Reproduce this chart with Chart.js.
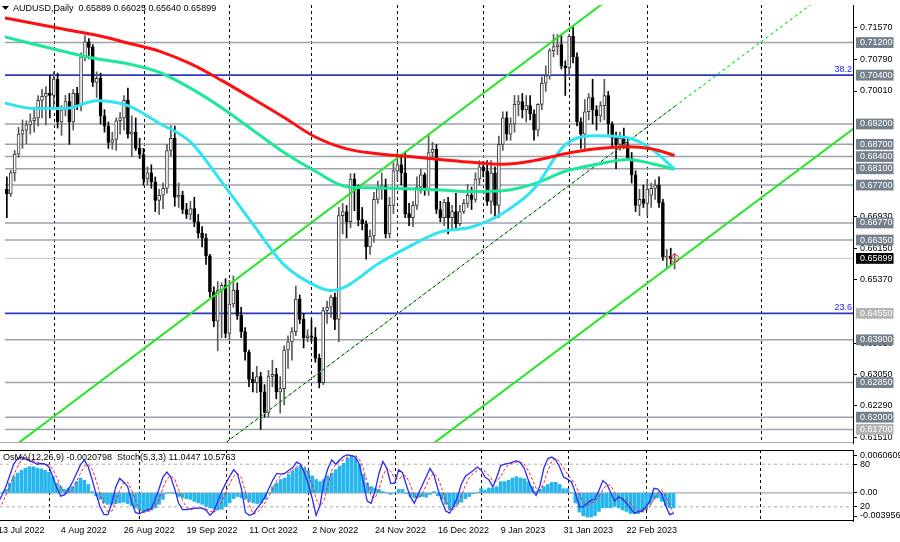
<!DOCTYPE html>
<html>
<head>
<meta charset="utf-8">
<script src="https://cdn.jsdelivr.net/npm/chart.js"></script>
<style>
  body { margin: 0; background: #fff; }
  #wrap { position: relative; width: 900px; height: 542px; overflow: hidden; background: #fff; }
  canvas { position: absolute; left: 0; }
  #main { top: 0; }
  #osc { top: 448px; }
</style>
</head>
<body>
<div id="wrap">
  <canvas id="main" width="900" height="448"></canvas>
  <canvas id="osc" width="900" height="94"></canvas>
</div>
<script>
// ---- data (AUDUSD daily, 13 Jul 2022 .. 10 Mar 2023) ----
const symbol = 'AUDUSD,Daily';
const firstDate = '2022-07-13';

const open = [0.6725,0.6760,0.6748,0.6800,0.6846,0.6895,0.6905,0.6918,0.6928,0.6935,
  0.6978,0.6988,0.6995,0.6990,0.7030,0.6925,0.6955,0.6975,0.6925,0.6995,
  0.6965,0.7085,0.7122,0.7108,0.7022,0.7032,0.6940,0.6915,0.6875,0.6882,
  0.6928,0.6935,0.6978,0.6895,0.6900,0.6860,0.6845,0.6785,0.6800,0.6778,
  0.6732,0.6745,0.6762,0.6855,0.6885,0.6740,0.6745,0.6710,0.6698,0.6712,
  0.6680,0.6652,0.6640,0.6596,0.6508,0.6436,0.6512,0.6524,0.6406,0.6478,
  0.6512,0.6450,0.6410,0.6360,0.6293,0.6285,0.6300,0.6262,0.6212,0.6300,
  0.6305,0.6262,0.6270,0.6365,0.6385,0.6410,0.6490,0.6440,0.6395,0.6400,
  0.6396,0.6345,0.6285,0.6462,0.6470,0.6495,0.6440,0.6695,0.6705,0.6680,
  0.6785,0.6760,0.6685,0.6675,0.6618,0.6645,0.6735,0.6760,0.6768,0.6650,
  0.6720,0.6805,0.6820,0.6800,0.6700,0.6690,0.6720,0.6765,0.6795,0.6760,
  0.6850,0.6858,0.6710,0.6690,0.6728,0.6690,0.6705,0.6675,0.6705,0.6725,
  0.6745,0.6735,0.6785,0.6815,0.6805,0.6730,0.6800,0.6720,0.6870,0.6935,
  0.6895,0.6920,0.6968,0.6975,0.6955,0.6965,0.6945,0.6905,0.6968,0.7020,
  0.7038,0.7100,0.7110,0.7115,0.7062,0.7058,0.7135,0.7085,0.6925,0.6895,
  0.6950,0.6985,0.6955,0.6940,0.6965,0.6990,0.6920,0.6885,0.6870,0.6885,
  0.6868,0.6835,0.6795,0.6720,0.6735,0.6725,0.6745,0.6762,0.6770,0.6727,
  0.6593,0.6595,0.65889];
const high = [0.6772,0.6790,0.6806,0.6855,0.6912,0.6930,0.6928,0.6945,0.6958,0.6990,
  0.7005,0.7012,0.7040,0.7048,0.7045,0.6965,0.6990,0.6995,0.7005,0.7010,
  0.7095,0.7137,0.7130,0.7115,0.7048,0.7045,0.6955,0.6925,0.6900,0.6935,
  0.6948,0.6990,0.7008,0.6940,0.6935,0.6885,0.6860,0.6815,0.6820,0.6790,
  0.6760,0.6775,0.6870,0.6916,0.6915,0.6775,0.6755,0.6725,0.6730,0.6740,
  0.6698,0.6668,0.6650,0.6600,0.6520,0.6533,0.6530,0.6540,0.6536,0.6547,
  0.6530,0.6470,0.6420,0.6365,0.6310,0.6325,0.6310,0.6280,0.6315,0.6340,
  0.6320,0.6300,0.6375,0.6400,0.6420,0.6522,0.6500,0.6455,0.6415,0.6440,
  0.6420,0.6355,0.6470,0.6485,0.6500,0.6505,0.6715,0.6725,0.6720,0.6798,
  0.6798,0.6770,0.6715,0.6682,0.6660,0.6752,0.6780,0.6800,0.6785,0.6740,
  0.6825,0.6850,0.6845,0.6851,0.6725,0.6730,0.6790,0.6810,0.6800,0.6893,
  0.6875,0.6870,0.6730,0.6735,0.6740,0.6720,0.6750,0.6720,0.6735,0.6772,
  0.6765,0.6800,0.6830,0.6828,0.6830,0.6830,0.6815,0.6890,0.6950,0.6950,
  0.6935,0.6990,0.6990,0.6995,0.6990,0.6990,0.6955,0.6970,0.7035,0.7063,
  0.7105,0.7140,0.7140,0.7140,0.7075,0.7140,0.7158,0.7095,0.6935,0.6980,
  0.6995,0.7030,0.6965,0.6975,0.7030,0.7000,0.6925,0.6900,0.6900,0.6910,
  0.6885,0.6850,0.6805,0.6760,0.6770,0.6782,0.6775,0.6783,0.6790,0.6735,
  0.6612,0.6615,0.66025];
const low = [0.6712,0.6690,0.6742,0.6780,0.6838,0.6860,0.6872,0.6895,0.6900,0.6915,
  0.6935,0.6918,0.6935,0.6962,0.6910,0.6892,0.6940,0.6870,0.6905,0.6955,
  0.6952,0.7075,0.7080,0.7012,0.6985,0.6920,0.6900,0.6860,0.6858,0.6855,
  0.6895,0.6905,0.6885,0.6840,0.6855,0.6835,0.6770,0.6770,0.6762,0.6705,
  0.6698,0.6712,0.6750,0.6842,0.6718,0.6715,0.6700,0.6688,0.6685,0.6668,
  0.6640,0.6618,0.6575,0.6495,0.6422,0.6363,0.6395,0.6395,0.6390,0.6470,
  0.6440,0.6395,0.6340,0.6275,0.6262,0.6260,0.6170,0.6200,0.6200,0.6275,
  0.6245,0.6210,0.6230,0.6320,0.6340,0.6400,0.6430,0.6370,0.6385,0.6385,
  0.6335,0.6272,0.6280,0.6430,0.6445,0.6415,0.6385,0.6650,0.6640,0.6665,
  0.6707,0.6670,0.6660,0.6588,0.6600,0.6630,0.6725,0.6735,0.6640,0.6640,
  0.6700,0.6780,0.6770,0.6690,0.6670,0.6668,0.6710,0.6750,0.6745,0.6745,
  0.6835,0.6700,0.6680,0.6670,0.6650,0.6660,0.6665,0.6670,0.6700,0.6715,
  0.6710,0.6728,0.6770,0.6790,0.6720,0.6700,0.6690,0.6690,0.6855,0.6880,
  0.6880,0.6900,0.6940,0.6935,0.6925,0.6930,0.6880,0.6890,0.6955,0.7000,
  0.7030,0.7085,0.7090,0.7055,0.6990,0.7040,0.7070,0.6915,0.6860,0.6855,
  0.6930,0.6920,0.6905,0.6925,0.6930,0.6895,0.6860,0.6810,0.6855,0.6860,
  0.6830,0.6775,0.6705,0.6695,0.6715,0.6695,0.6715,0.6735,0.6715,0.6585,
  0.6568,0.6575,0.65640];
const close = [0.6760,0.6748,0.6800,0.6846,0.6895,0.6905,0.6918,0.6928,0.6935,0.6978,
  0.6988,0.6995,0.6990,0.7030,0.6925,0.6955,0.6975,0.6925,0.6995,0.6965,
  0.7085,0.7122,0.7108,0.7022,0.7032,0.6940,0.6915,0.6875,0.6882,0.6928,
  0.6935,0.6978,0.6895,0.6900,0.6860,0.6845,0.6785,0.6800,0.6778,0.6732,
  0.6745,0.6762,0.6855,0.6885,0.6740,0.6745,0.6710,0.6698,0.6712,0.6680,
  0.6652,0.6640,0.6596,0.6508,0.6436,0.6512,0.6524,0.6406,0.6478,0.6512,
  0.6450,0.6410,0.6360,0.6293,0.6285,0.6300,0.6262,0.6212,0.6300,0.6305,
  0.6262,0.6270,0.6365,0.6385,0.6410,0.6490,0.6440,0.6395,0.6400,0.6396,
  0.6345,0.6285,0.6462,0.6470,0.6495,0.6440,0.6695,0.6705,0.6680,0.6785,
  0.6760,0.6685,0.6675,0.6618,0.6645,0.6735,0.6760,0.6768,0.6650,0.6720,
  0.6805,0.6820,0.6800,0.6700,0.6690,0.6720,0.6765,0.6795,0.6760,0.6850,
  0.6858,0.6710,0.6690,0.6728,0.6690,0.6705,0.6675,0.6705,0.6725,0.6745,
  0.6735,0.6785,0.6815,0.6805,0.6730,0.6800,0.6720,0.6870,0.6935,0.6895,
  0.6920,0.6968,0.6975,0.6955,0.6965,0.6945,0.6905,0.6968,0.7020,0.7038,
  0.7100,0.7110,0.7115,0.7062,0.7058,0.7135,0.7085,0.6925,0.6895,0.6950,
  0.6985,0.6955,0.6940,0.6965,0.6990,0.6920,0.6885,0.6870,0.6885,0.6868,
  0.6835,0.6795,0.6720,0.6735,0.6725,0.6760,0.6762,0.6770,0.6727,0.6593,
  0.6595,0.6589,0.65899];

// moving averages, read at every few bars
const maIdx   = [0,8,16,24,32,40,48,56,64,72,80,88,96,104,112,120,128,136,144,152,160,166,172];
const maRed   = [0.7181,0.7167,0.7152,0.7138,0.7119,0.7099,0.7068,0.7027,0.6982,0.6936,0.6888,0.6859,0.6847,0.6840,0.6833,0.6826,0.6821,0.6830,0.6847,0.6859,0.6864,0.6859,0.6843];
const maGreen = [0.7135,0.7116,0.7097,0.7080,0.7068,0.7047,0.7008,0.6960,0.6905,0.6850,0.6804,0.6766,0.6763,0.6761,0.6758,0.6754,0.6756,0.6773,0.6804,0.6821,0.6833,0.6823,0.6809];
const cyanIdx = [0,8,16,24,32,40,48,56,64,72,80,84,88,96,104,112,120,128,136,144,152,160,166,172];
const maCyan  = [0.6972,0.6958,0.6958,0.6977,0.6965,0.6922,0.6876,0.6778,0.6674,0.6574,0.6523,0.6511,0.6522,0.6576,0.6619,0.6655,0.6667,0.6701,0.6761,0.6869,0.6891,0.6886,0.6859,0.6809];

// channel (bar index, price)
const upperIdx = [0, 160],   upperVal = [0.6108, 0.7262];
const lowerIdx = [100, 218], lowerVal = [0.6062, 0.6910];
const midIdx   = [56, 172, 218], midVal = [0.6130, 0.6963, 0.7293];

// horizontal levels
const levelValues = [0.7120, 0.7040, 0.6920, 0.6870, 0.6840, 0.6810, 0.6770, 0.6677, 0.6635, 0.6455, 0.6390, 0.6285, 0.6200, 0.6170];
const fiboValues = [0.7040, 0.6455];
const fiboNames  = ['38.2', '23.6'];
const priceTicks = [0.7157, 0.7079, 0.7001, 0.6693, 0.6615, 0.6537, 0.6381, 0.6305, 0.6229, 0.6151];

// oscillators
const osma = [-0.0004,0,0.0005,0.0014,0.0023,0.0028,0.0032,0.0035,0.0037,0.0037,
  0.0035,0.0034,0.0032,0.0029,0.0023,0.0014,0.0009,0.0005,0.0007,0.0009,
  0.0016,0.0021,0.0018,0.0012,0.0002,-0.0004,-0.0009,-0.0014,-0.0016,-0.0016,
  -0.0015,-0.0014,-0.0013,-0.0015,-0.0018,-0.0021,-0.0024,-0.0026,-0.0026,-0.0024,
  -0.0021,-0.0016,-0.0009,-0.0001,0.0001,-0.0001,-0.0005,-0.0007,-0.0008,-0.0009,
  -0.0012,-0.0014,-0.0016,-0.0019,-0.0021,-0.0023,-0.0024,-0.0023,-0.0019,-0.0014,
  -0.0008,-0.0005,-0.0007,-0.0009,-0.0012,-0.0014,-0.0015,-0.0014,-0.0009,0,
  0.0009,0.0014,0.0019,0.0021,0.0026,0.0031,0.0035,0.0038,0.0035,0.0031,
  0.0024,0.0019,0.0016,0.0019,0.0024,0.0028,0.0033,0.0038,0.0042,0.0049,
  0.0053,0.0049,0.0040,0.0026,0.0014,0.0009,0.0007,0.0005,0.0002,0,
  -0.0002,0,0.0005,0.0005,-0.0001,-0.0005,-0.0007,-0.0006,-0.0005,-0.0006,
  -0.0002,0.0002,-0.0004,-0.0009,-0.0016,-0.0024,
  -0.0020,-0.0016,-0.0013,-0.0008,-0.0005,-0.0001,0.0001,0.0006,0.0004,0.0007,
  0.0007,0.0009,0.0016,0.0016,0.0018,0.0021,0.0023,0.0021,0.0020,0.0016,
  0.0009,0.0002,0.0005,0.0009,0.0012,0.0015,0.0015,0.0012,0.0006,0.0006,
  0,-0.0014,-0.0027,-0.0032,-0.0034,-0.0034,-0.0032,-0.0026,-0.0021,-0.0021,
  -0.0021,-0.0019,-0.0021,-0.0024,-0.0026,-0.0029,-0.0029,-0.0029,-0.0027,-0.0024,
  -0.0016,-0.0009,-0.0007,-0.0012,-0.0018,-0.0021,-0.0020798];
const stochMain = [25,36,48,64,80,88,90,87,85,83,
  80,81,80,76,62,46,35,37,45,55,
  67,79,86,76,58,38,20,9,9,25,
  48,60,55,49,28,12,10,13,16,17,
  30,45,62,69,62,45,25,16,16,17,
  18,18,18,15,8,14,28,42,53,63,
  72,66,45,12,8,10,18,25,34,46,
  58,67,66,67,71,75,83,80,68,52,
  32,8,22,55,74,86,80,86,91,93,
  92,90,80,55,28,25,42,67,84,74,
  53,53,72,68,50,34,25,38,50,62,
  74,65,45,28,14,11,
  21,34,52,63,67,71,76,72,62,58,
  48,62,78,80,81,83,85,82,74,58,
  44,36,50,75,88,90,86,76,62,59,
  55,40,20,20,25,29,31,43,57,52,
  40,28,34,31,25,18,11,13,15,20,
  28,46,45,38,21,9,11.0447];
const stochSignal = [18,24,36,49,64,77,86,88,87,85,
  83,81,80,79,73,61,48,39,39,46,
  56,67,77,80,73,57,39,22,13,14,
  27,44,54,55,44,30,17,12,13,15,
  21,31,46,59,64,59,44,29,19,16,
  17,18,18,17,14,12,17,28,41,53,
  63,67,61,41,22,10,12,18,26,35,
  46,57,64,67,68,71,76,79,77,67,
  51,31,21,28,50,72,80,84,86,90,
  92,92,87,75,54,36,32,45,64,75,
  70,60,59,64,63,51,36,32,38,50,
  62,67,61,46,29,18,
  16,24,36,50,61,67,71,73,70,64,
  56,56,63,73,80,81,83,83,80,71,
  59,46,43,54,71,84,88,84,75,66,
  59,51,38,27,22,25,28,34,44,51,
  50,40,34,31,30,25,18,14,13,16,
  21,31,40,43,35,23,10.5763];
const stochLevels = [80, 20];
const oscMax = 0.0060609, oscMin = -0.003956;

const labelDates = ['2022-07-13','2022-08-04','2022-08-26','2022-09-19','2022-10-11','2022-11-02',
  '2022-11-24','2022-12-16','2023-01-09','2023-01-31','2023-02-22'];
const gridDates = ['2022-08-01','2022-09-01','2022-10-03','2022-11-01','2022-12-01',
  '2023-01-02','2023-02-01','2023-03-01','2023-04-11'];

// ---- helpers ----
const dates = [];
(function () {
  const d = new Date(firstDate + 'T00:00:00Z');
  while (dates.length < 240) {
    const w = d.getUTCDay();
    if (w !== 0 && w !== 6) dates.push(d.toISOString().slice(0, 10));
    d.setUTCDate(d.getUTCDate() + 1);
  }
})();
const MONTHS = ['Jan','Feb','Mar','Apr','May','Jun','Jul','Aug','Sep','Oct','Nov','Dec'];
function fmtDate(s) {
  const p = s.split('-');
  return (+p[2]) + ' ' + MONTHS[+p[1] - 1] + ' ' + p[0];
}
const xMin = 0.524, xMax = 217.68;   // visible bar range
const last = close.length - 1;
const pts = (ix, vals) => ix.map((x, k) => ({x: x, y: vals[k]}));
const across = v => [{x: xMin, y: v}, {x: xMax, y: v}];
const bull = i => close[i] >= open[i];

Chart.defaults.font.family = "'Liberation Sans', Arial, sans-serif";
Chart.defaults.font.size = 9;
Chart.defaults.color = '#000';
Chart.defaults.animation = false;

function gridPlugin(id) {
  return {
    id: id,
    beforeDatasetsDraw(chart) {
      const {ctx, chartArea: a, scales: {x}} = chart;
      ctx.save();
      ctx.strokeStyle = '#000';
      ctx.lineWidth = 1;
      ctx.setLineDash([3, 3]);
      gridDates.forEach(d => {
        const px = Math.round(x.getPixelForValue(dates.indexOf(d))) + 0.5;
        ctx.beginPath(); ctx.moveTo(px, a.top); ctx.lineTo(px, a.bottom); ctx.stroke();
      });
      ctx.restore();
    }
  };
}

// ---- main price panel ----
let mainKinds = [];
const boxColor = {box: '#74808c', light: '#b4b4b4', last: '#000000'};

const levelSets = levelValues.map(v => {
  const fibo = fiboValues.includes(v);
  return {
    type: 'line', data: across(v), pointRadius: 0, order: 10,
    borderColor: fibo ? '#2a38c4' : '#9aa3ac', borderWidth: fibo ? 1.6 : 1.5
  };
});

new Chart(document.getElementById('main'), {
  data: {
    datasets: [
      ...levelSets,
      {type: 'line', data: across(close[last]), pointRadius: 0, borderColor: '#c8c8c8', borderWidth: 1, order: 9},
      {type: 'bar', data: close.map((c, i) => ({x: i, y: [low[i], high[i]]})), grouped: false, barThickness: 1,
        backgroundColor: ctx => bull(ctx.dataIndex) ? '#5a5a5a' : '#000', order: 6},
      {type: 'bar', data: close.map((c, i) => ({x: i, y: [open[i], c]})), grouped: false, barThickness: 3,
        backgroundColor: ctx => bull(ctx.dataIndex) ? '#ffffff' : '#000',
        borderColor: ctx => bull(ctx.dataIndex) ? '#3a3a3a' : '#000',
        borderWidth: 1, borderSkipped: false, order: 5},
      {type: 'line', data: pts(upperIdx, upperVal), pointRadius: 0, borderColor: '#22e622', borderWidth: 2, order: 3},
      {type: 'line', data: pts(lowerIdx, lowerVal), pointRadius: 0, borderColor: '#22e622', borderWidth: 2, order: 3},
      {type: 'line', data: pts(midIdx.slice(0, 2), midVal.slice(0, 2)), pointRadius: 0, borderColor: '#6cf06c', borderWidth: 1, order: 4},
      {type: 'line', data: pts(midIdx.slice(0, 2), midVal.slice(0, 2)), pointRadius: 0, borderColor: '#202020', borderWidth: 1, borderDash: [3, 3], order: 3},
      {type: 'line', data: pts(midIdx.slice(1), midVal.slice(1)), pointRadius: 0, borderColor: '#22e622', borderWidth: 1.2, borderDash: [3, 3], order: 3},
      {type: 'line', data: pts(maIdx, maGreen), pointRadius: 0, borderColor: '#1de89a', borderWidth: 3, cubicInterpolationMode: 'monotone', order: 2},
      {type: 'line', data: pts(maIdx, maRed), pointRadius: 0, borderColor: '#ff1010', borderWidth: 3, cubicInterpolationMode: 'monotone', order: 1},
      {type: 'line', data: pts(cyanIdx, maCyan), pointRadius: 0, borderColor: '#30e4f2', borderWidth: 3, cubicInterpolationMode: 'monotone', order: 1},
      {type: 'scatter', data: [{x: last, y: close[last]}], pointRadius: 4, pointStyle: 'circle',
        borderColor: '#ff3030', backgroundColor: 'rgba(0,0,0,0)', borderWidth: 1, order: 0}
    ]
  },
  options: {
    responsive: false,
    layout: {padding: 0},
    plugins: {legend: {display: false}, tooltip: {enabled: false}},
    scales: {
      x: {type: 'linear', min: xMin, max: xMax, offset: false, display: false},
      y: {
        type: 'linear', position: 'right', min: 0.61366, max: 0.72122,
        afterBuildTicks(s) {
          mainKinds = [];
          const t = [];
          priceTicks.forEach(v => { t.push({value: v}); mainKinds.push('plain'); });
          levelValues.forEach(v => { t.push({value: v}); mainKinds.push(v === 0.6455 || v === 0.6170 ? 'light' : 'box'); });
          t.push({value: close[last]}); mainKinds.push('last');
          s.ticks = t;
        },
        afterFit(s) { s.width = 47; s.paddingTop = 0; s.paddingBottom = 0; },
        border: {display: true, color: '#000', width: 1},
        grid: {drawOnChartArea: false, drawTicks: true, tickLength: 4,
          tickColor: ctx => mainKinds[ctx.index] === 'plain' ? '#000' : 'rgba(0,0,0,0)'},
        ticks: {
          autoSkip: false, padding: 3,
          callback: v => v.toFixed(5),
          color: ctx => mainKinds[ctx.index] === 'plain' ? '#000' : '#fff',
          showLabelBackdrop: ctx => mainKinds[ctx.index] !== 'plain',
          backdropColor: ctx => boxColor[mainKinds[ctx.index]] || 'rgba(0,0,0,0)',
          backdropPadding: {left: 4, right: 1, top: 0, bottom: 0}
        }
      }
    }
  },
  plugins: [gridPlugin('mainGrid'), {
    id: 'mainText',
    afterDraw(chart) {
      const {ctx, chartArea: a, scales: {y}} = chart;
      ctx.save();
      ctx.strokeStyle = '#a8a8a8'; ctx.lineWidth = 1;
      ctx.beginPath(); ctx.moveTo(0, a.bottom - 0.5); ctx.lineTo(a.right, a.bottom - 0.5); ctx.stroke();
      ctx.font = "9px 'Liberation Sans'";
      ctx.fillStyle = '#2020ff'; ctx.textAlign = 'right'; ctx.textBaseline = 'bottom';
      fiboValues.forEach((v, k) => ctx.fillText(fiboNames[k], a.right - 1, y.getPixelForValue(v) - 1));
      ctx.fillStyle = '#000';
      ctx.beginPath(); ctx.moveTo(2, 6); ctx.lineTo(9, 6); ctx.lineTo(5.5, 10); ctx.closePath(); ctx.fill();
      ctx.textAlign = 'left'; ctx.textBaseline = 'middle';
      ctx.fillText(symbol + '  ' + [open, high, low, close].map(s => s[last].toFixed(5)).join(' '), 13, 8.5);
      ctx.restore();
    }
  }]
});

// ---- oscillator panel ----
const oscRange = oscMax - oscMin;
const stochToOsc = v => oscMin + v / 100 * oscRange;
let oscLabels = [];

new Chart(document.getElementById('osc'), {
  data: {
    datasets: [
      {type: 'line', data: across(0), yAxisID: 'yo', pointRadius: 0, borderColor: '#8894a0', borderWidth: 1, order: 9},
      ...stochLevels.map(v => ({type: 'line', data: across(v), yAxisID: 'ys', pointRadius: 0,
        borderColor: '#b0b0b0', borderWidth: 1, borderDash: [3, 3], order: 9})),
      {type: 'bar', data: osma.map((v, i) => ({x: i, y: v})), yAxisID: 'yo', grouped: false, barThickness: 3,
        backgroundColor: '#26b6ee', order: 5},
      {type: 'line', data: stochSignal.map((v, i) => ({x: i, y: v})), yAxisID: 'ys', pointRadius: 0,
        borderColor: '#ff2020', borderWidth: 1, borderDash: [3, 2], order: 2},
      {type: 'line', data: stochMain.map((v, i) => ({x: i, y: v})), yAxisID: 'ys', pointRadius: 0,
        borderColor: '#2a2af0', borderWidth: 1.3, order: 1}
    ]
  },
  options: {
    responsive: false,
    layout: {padding: {top: 2, left: 0, right: 0, bottom: 0}},
    plugins: {legend: {display: false}, tooltip: {enabled: false}},
    scales: {
      x: {
        type: 'linear', min: xMin, max: xMax, offset: false, position: 'bottom',
        afterBuildTicks(s) { s.ticks = labelDates.map(d => ({value: dates.indexOf(d)})); },
        afterFit(s) { s.height = 21; s.paddingLeft = 0; s.paddingRight = 0; },
        grid: {display: false, drawTicks: false, offset: false},
        border: {display: false},
        ticks: {autoSkip: false, maxRotation: 0, align: 'start', padding: 4,
          callback: v => fmtDate(dates[v])}
      },
      ys: {type: 'linear', min: 0, max: 100, display: false},
      yo: {
        type: 'linear', position: 'right', min: oscMin, max: oscMax,
        afterBuildTicks(s) {
          const nudge = oscRange / 71;
          const t = [
            {value: oscMax - 6 * nudge, text: oscMax.toFixed(7)},
            {value: stochToOsc(stochLevels[0]), text: String(stochLevels[0])},
            {value: 0, text: '0.00'},
            {value: stochToOsc(stochLevels[1]), text: String(stochLevels[1])},
            {value: oscMin + 5 * nudge, text: oscMin.toFixed(6)}
          ];
          oscLabels = t.map(o => o.text);
          s.ticks = t.map(o => ({value: o.value}));
        },
        afterFit(s) { s.width = 47; s.paddingTop = 0; s.paddingBottom = 0; },
        border: {display: true, color: '#000', width: 1},
        grid: {drawOnChartArea: false, drawTicks: true, tickLength: 4, tickColor: '#000'},
        ticks: {autoSkip: false, padding: 3, callback: (v, i) => oscLabels[i]}
      }
    }
  },
  plugins: [gridPlugin('oscGrid'), {
    id: 'oscText',
    afterDraw(chart) {
      const {ctx, chartArea: a} = chart;
      ctx.save();
      ctx.strokeStyle = '#000'; ctx.lineWidth = 1;
      ctx.beginPath();
      ctx.moveTo(0, a.top + 0.5); ctx.lineTo(a.right, a.top + 0.5);
      ctx.moveTo(0, a.bottom - 0.5); ctx.lineTo(a.right, a.bottom - 0.5);
      ctx.stroke();
      ctx.font = "9px 'Liberation Sans'";
      ctx.fillStyle = '#000'; ctx.textAlign = 'left'; ctx.textBaseline = 'middle';
      ctx.fillText('OsMA(12,26,9) ' + osma[last].toFixed(7) + '  Stoch(5,3,3) ' +
        stochMain[last].toFixed(4) + ' ' + stochSignal[last].toFixed(4), 3, a.top + 8);
      ctx.restore();
    }
  }]
});
</script>
</body>
</html>
